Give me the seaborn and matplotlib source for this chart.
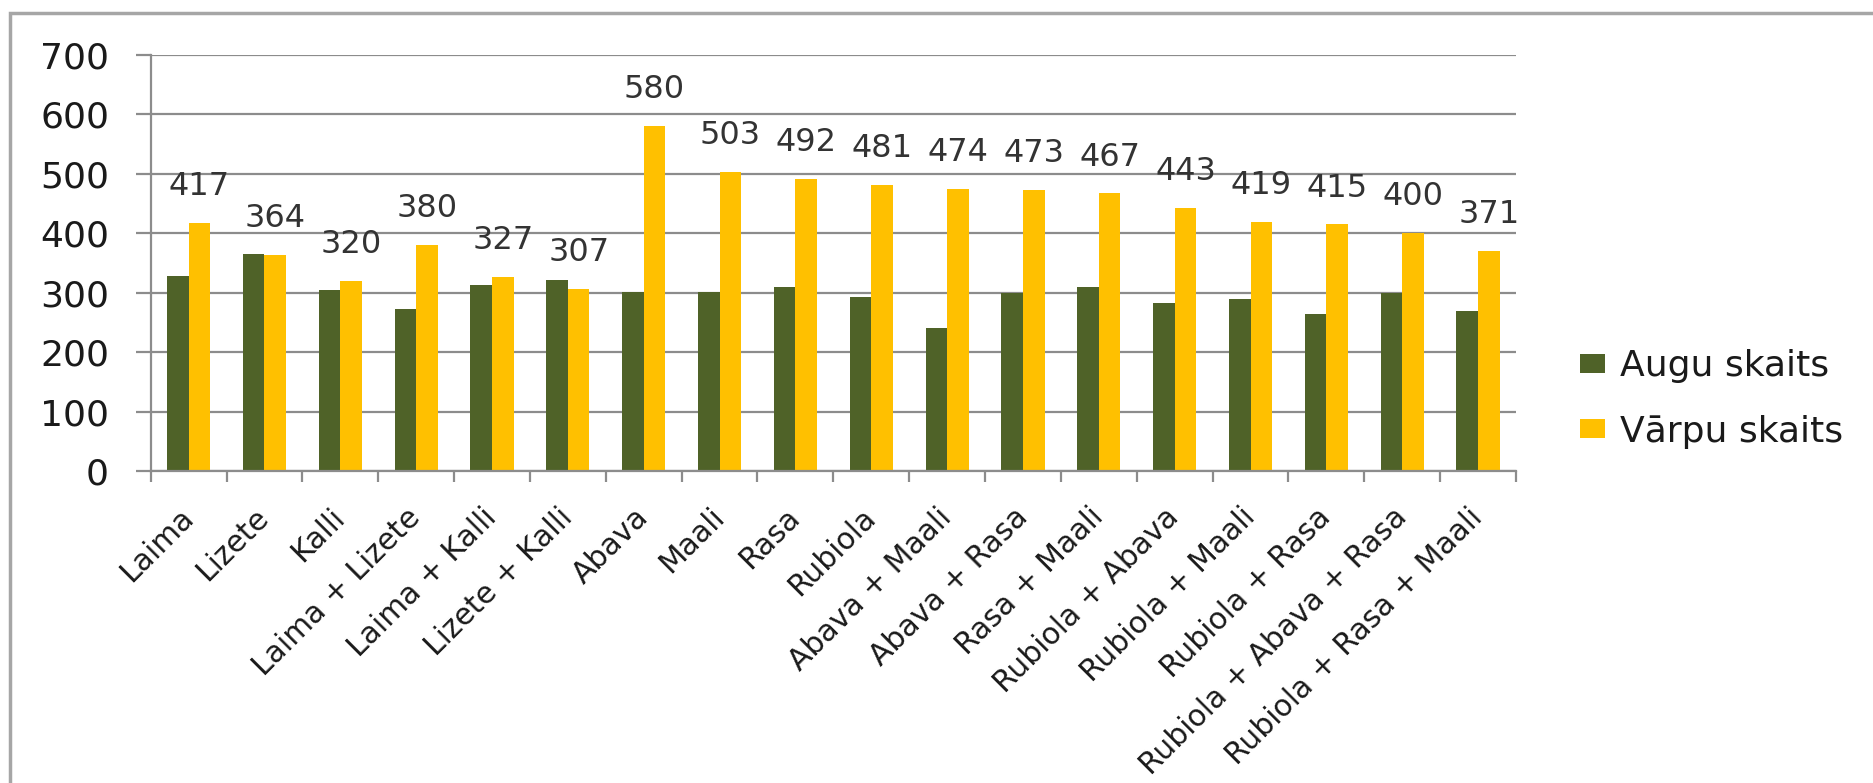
import matplotlib
matplotlib.use("Agg")
import matplotlib.pyplot as plt
import seaborn as sns
import pandas as pd
import numpy as np
from matplotlib.patches import Rectangle, Patch
from matplotlib.ticker import FixedLocator

categories = ["Laima", "Lizete", "Kalli", "Laima + Lizete", "Laima + Kalli",
              "Lizete + Kalli", "Abava", "Maali", "Rasa", "Rubiola",
              "Abava + Maali", "Abava + Rasa", "Rasa + Maali", "Rubiola + Abava",
              "Rubiola + Maali", "Rubiola + Rasa", "Rubiola + Abava + Rasa",
              "Rubiola + Rasa + Maali"]
augu = [328, 365, 305, 272, 313, 322, 301, 301, 310, 292,
        240, 300, 310, 283, 289, 265, 300, 269]
varpu = [417, 364, 320, 380, 327, 307, 580, 503, 492, 481,
         474, 473, 467, 443, 419, 415, 400, 371]
series_names = ["Augu skaits", "Vārpu skaits"]
yticks = [0, 100, 200, 300, 400, 500, 600, 700]

green = "#4F6228"
yellow = "#FFC000"

df = pd.DataFrame({
    "cat": categories * 2,
    "value": augu + varpu,
    "series": [series_names[0]] * len(categories) + [series_names[1]] * len(categories),
})

sns.set_style("white")
plt.rcParams["font.family"] = ["DejaVu Sans"]

W, H = 1874, 783
fig = plt.figure(figsize=(W / 100, H / 100), dpi=100)
ax = fig.add_axes([150.7 / W, 1 - 471 / H, (1516 - 150.7) / W, (471 - 55) / H])

sns.barplot(data=df, x="cat", y="value", hue="series", order=categories,
            hue_order=series_names, palette=[green, yellow], saturation=1,
            width=0.57, gap=0, ax=ax, legend=False, errorbar=None,
            linewidth=0, edgecolor="none")

ax.set_xlim(-0.5, len(categories) - 0.5)
ax.set_ylim(0, 700)
ax.set_yticks(yticks)
ax.set_xlabel("")
ax.set_ylabel("")

gridc = "#8c8c8c"
ax.set_axisbelow(True)
ax.yaxis.grid(True, color=gridc, linewidth=1.6)
ax.xaxis.grid(False)
for s in ["top", "right"]:
    ax.spines[s].set_visible(False)
for s in ["left", "bottom"]:
    ax.spines[s].set_color(gridc)
    ax.spines[s].set_linewidth(1.6)

ax.tick_params(axis="y", direction="out", length=11, width=1.6, color=gridc,
               labelsize=26, labelcolor="#1a1a1a", pad=19, left=True)
ax.set_xticks(range(len(categories)))
ax.set_xticklabels(categories, rotation=45, ha="right", va="center",
                   rotation_mode="anchor", fontsize=21.5, color="#1a1a1a")
ax.tick_params(axis="x", which="major", length=0, pad=30)
ax.xaxis.set_minor_locator(FixedLocator(np.arange(-0.5, len(categories), 1.0)))
ax.tick_params(axis="x", which="minor", direction="out", length=8, width=1.6,
               color=gridc, bottom=True)

# data labels on the yellow series
ax.bar_label(ax.containers[1], labels=[str(v) for v in varpu], padding=15,
             fontsize=23, color="#333333")

# legend
handles = [Patch(facecolor=green, edgecolor="none"),
           Patch(facecolor=yellow, edgecolor="none")]
fig.legend(handles, series_names, loc="center left",
           bbox_to_anchor=(1580 / W, 1 - 399 / H), frameon=False,
           fontsize=26, handlelength=0.7, handleheight=0.45,
           handletextpad=0.42, labelspacing=0.86, borderpad=0,
           borderaxespad=0, labelcolor="#1a1a1a")

# chart frame (cropped on right/bottom)
fig.add_artist(Rectangle((10 / W, -0.2), 1.5, (1 - 13 / H) + 0.2,
                         transform=fig.transFigure, fill=False,
                         edgecolor="#a6a6a6", linewidth=2.5))

fig.savefig("out.png", dpi=100)
